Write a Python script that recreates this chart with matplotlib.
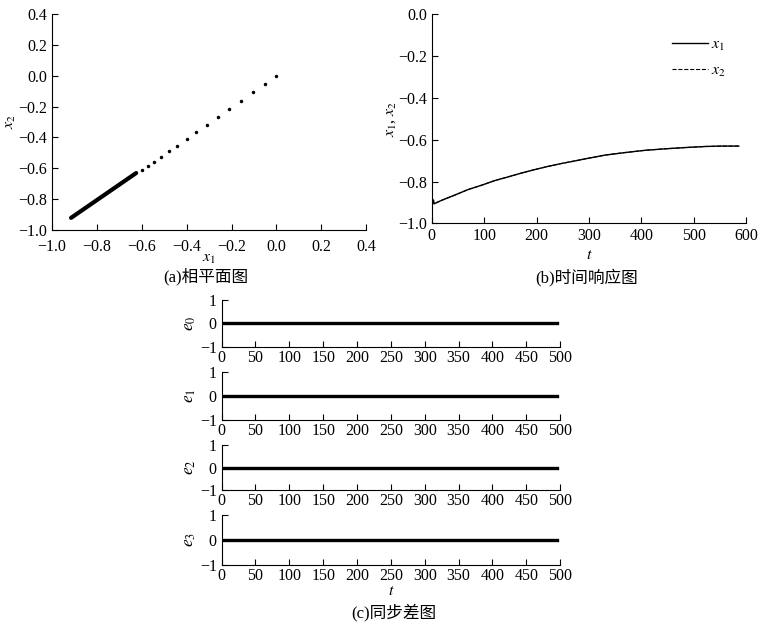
import matplotlib.pyplot as plt

plt.rcParams['font.family'] = ['Liberation Serif', 'Noto Sans CJK SC']
plt.rcParams['mathtext.fontset'] = 'stix'
plt.rcParams['font.size'] = 11.5
plt.rcParams['axes.unicode_minus'] = True

# (a) phase plane: sparse transient points, then dense segment
phase_x1 = [0.0, -0.052, -0.104, -0.160, -0.210, -0.262, -0.310, -0.359, -0.400,
            -0.443, -0.480, -0.513, -0.545, -0.573, -0.597]
phase_x2 = [0.0, -0.054, -0.108, -0.162, -0.216, -0.265, -0.317, -0.366, -0.412,
            -0.455, -0.490, -0.524, -0.558, -0.586, -0.612]
dense_x1 = [-0.915, -0.625]
dense_x2 = [-0.920, -0.630]

# (b) time response
t_resp = [3, 4, 18, 44, 69, 95, 120, 146, 171, 197, 222, 248, 273, 297,
          331, 369, 408, 446, 484, 522, 554, 586]
x1_resp = [-0.888, -0.906, -0.890, -0.864, -0.838, -0.817, -0.795, -0.777,
           -0.759, -0.742, -0.727, -0.713, -0.701, -0.689, -0.673, -0.661,
           -0.650, -0.643, -0.637, -0.632, -0.630, -0.630]
x2_resp = list(x1_resp)

# (c) synchronization errors
t_err = [0, 495]
errors = {
    '$e_0$': [0, 0],
    '$e_1$': [0, 0],
    '$e_2$': [0, 0],
    '$e_3$': [0, 0],
}

captions = ['(a)相平面图', '(b)时间响应图', '(c)同步差图']


def style(ax):
    ax.spines['top'].set_visible(False)
    ax.spines['right'].set_visible(False)
    ax.tick_params(direction='in', length=4, width=0.8, labelsize=11.5)


fig = plt.figure(figsize=(7.59, 6.29), dpi=100)
H = 629.0

# (a)
ax_a = fig.add_axes([0.0685, 0.634, 0.414, 0.344])
ax_a.plot(phase_x1, phase_x2, 'k.', markersize=3)
ax_a.plot(dense_x1, dense_x2, 'k-', lw=3, solid_capstyle='round')
ax_a.set_xlim(-1.0, 0.4)
ax_a.set_ylim(-1.0, 0.4)
ax_a.set_xticks([-1.0, -0.8, -0.6, -0.4, -0.2, 0.0, 0.2, 0.4])
ax_a.set_yticks([-1.0, -0.8, -0.6, -0.4, -0.2, 0.0, 0.2, 0.4])
style(ax_a)
ax_a.tick_params(axis='x', pad=6)
ax_a.set_xlabel('$x_1$', fontsize=11.5, labelpad=-3)
ax_a.set_ylabel('$x_2$', fontsize=11.5, labelpad=0)
fig.text(206 / 759, 1 - 277 / H, captions[0], ha='center', va='center', fontsize=12)

# (b)
ax_b = fig.add_axes([0.569, 0.6447, 0.414, 0.3326])
ax_b.plot(t_resp, x1_resp, 'k-', lw=1.0, label='$x_1$')
ax_b.plot(t_resp, x2_resp, 'k--', lw=0.8, label='$x_2$')
ax_b.set_xlim(0, 600)
ax_b.set_ylim(-1.0, 0.0)
ax_b.set_xticks(range(0, 601, 100))
ax_b.set_yticks([-1.0, -0.8, -0.6, -0.4, -0.2, 0.0])
style(ax_b)
ax_b.set_xlabel('$t$', fontsize=11.5, labelpad=2)
ax_b.set_ylabel('$x_1$, $x_2$', fontsize=11.5, labelpad=0)
ax_b.legend(loc='upper left', bbox_to_anchor=(0.72, 0.96), frameon=False,
            handlelength=2.2, handletextpad=0.2, labelspacing=0.6, fontsize=11.5)
fig.text(587 / 759, 1 - 277 / H, captions[1], ha='center', va='center', fontsize=12)

# (c)
spans = [(300, 346.7), (372.3, 420), (445, 490), (515, 565)]
for (top, bot), (name, vals) in zip(spans, errors.items()):
    ax = fig.add_axes([0.292, 1 - bot / H, 0.446, (bot - top) / H])
    ax.plot(t_err, vals, 'k-', lw=2.4)
    ax.set_xlim(0, 500)
    ax.set_ylim(-1, 1)
    ax.set_xticks(range(0, 501, 50))
    ax.set_yticks([-1, 0, 1])
    style(ax)
    ax.tick_params(axis='x', pad=2.5)
    ax.set_ylabel(name, fontsize=12.5, labelpad=1)
    if (top, bot) == spans[-1]:
        ax.set_xlabel('$t$', fontsize=11.5, labelpad=-1)
fig.text(394 / 759, 1 - 612 / H, captions[2], ha='center', va='center', fontsize=12)

fig.savefig('out.png', dpi=100)
